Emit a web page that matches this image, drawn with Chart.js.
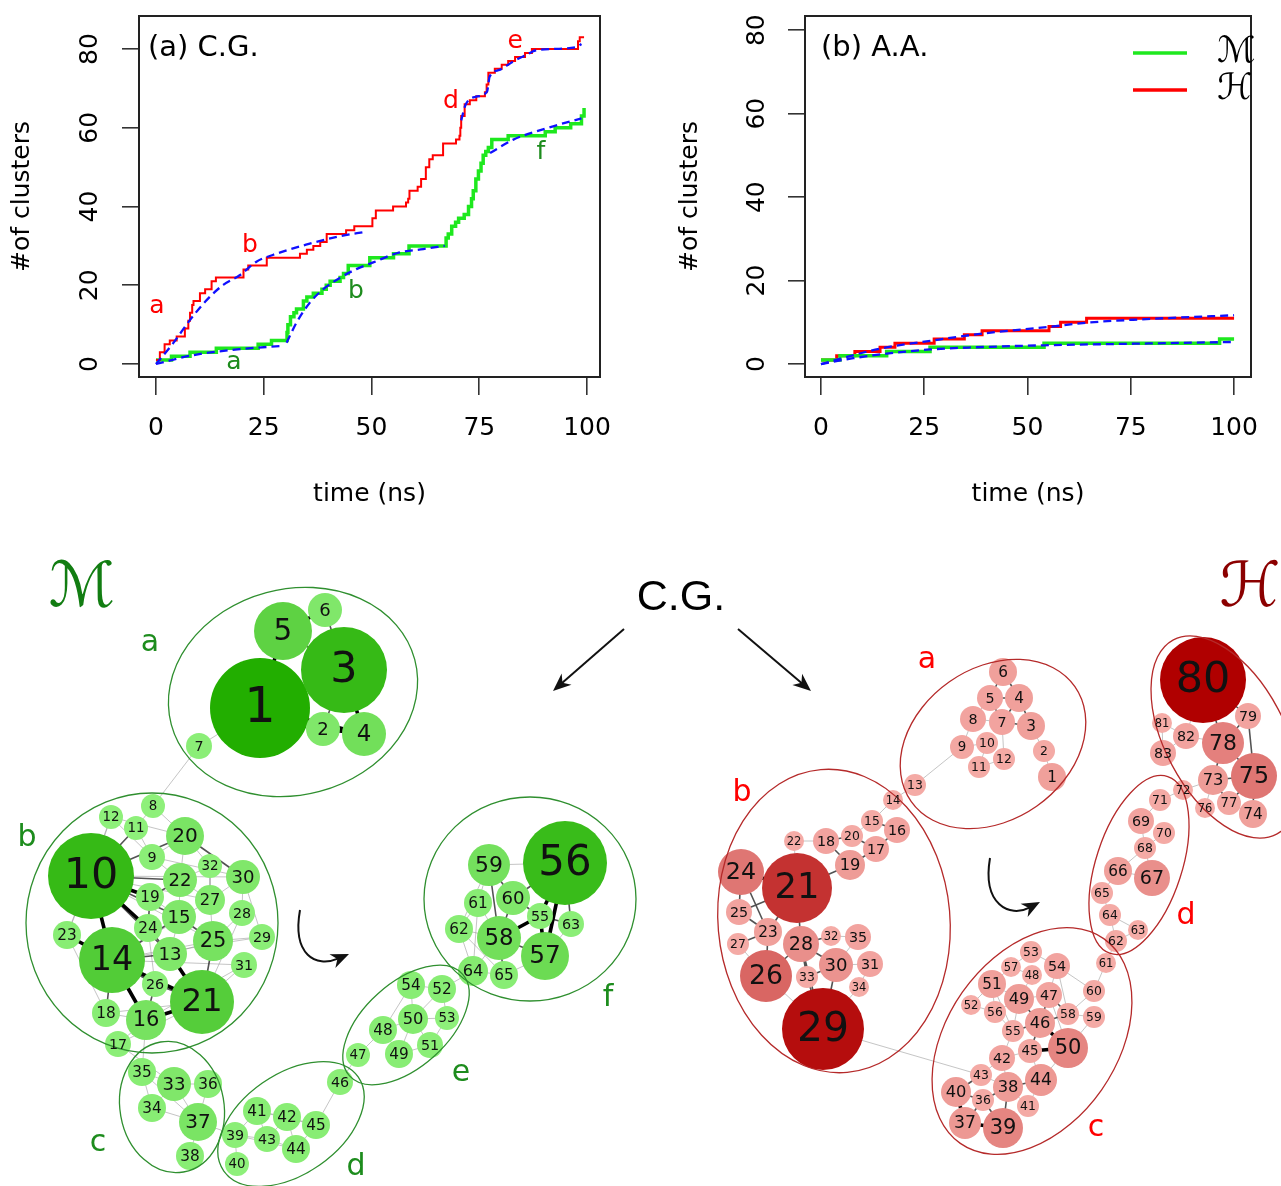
<!DOCTYPE html>
<html>
<head>
<meta charset="utf-8">
<script src="https://cdn.jsdelivr.net/npm/chart.js@4.4.1/dist/chart.umd.min.js"></script>
<style>
    html, body { margin: 0; padding: 0; background: #ffffff; }
    #page { position: relative; width: 1281px; height: 1186px; overflow: hidden; }
    canvas { position: absolute; }
    #cgChart { left: 0; top: 0; }
    #aaChart { left: 640px; top: 0; }
    #netChart { left: 0; top: 530px; }
</style>
</head>
<body>
<div id="page">
    <canvas id="cgChart" width="640" height="530"></canvas>
    <canvas id="aaChart" width="641" height="530"></canvas>
    <canvas id="netChart" width="1281" height="656"></canvas>
</div>
<script>
// ---- top panels: number of clusters over time ----
const timeTicks = [0, 25, 50, 75, 100];
const countTicks = [0, 20, 40, 60, 80];

// [time (ns), clusters]; a step happens at each time
const cgHSteps = [[0, 1], [0.9, 3], [2, 5], [3.2, 6], [4.8, 7], [6.7, 9], [7.5, 11], [7.9, 13], [8.4, 15], [8.7, 16],
    [10.2, 18], [11.4, 19], [12.9, 21], [13.9, 22], [20.3, 24], [21.4, 25], [25.7, 27], [33.4, 28], [35, 29], [36.5, 30],
    [38.1, 31], [39.6, 33], [44.1, 34], [46, 35], [50.2, 37], [51, 39], [55, 40], [58, 41], [58.5, 42], [58.8, 44],
    [60.7, 45], [61.5, 47], [62.6, 50], [63.4, 52], [64.2, 53], [66.6, 56], [69.6, 57], [70.4, 58], [70.6, 60], [70.8, 63],
    [71.6, 66], [72.8, 67], [74.3, 68], [76.3, 69], [76.7, 71], [77.1, 74], [78.6, 75], [80.2, 76], [81.7, 77], [83.3, 78],
    [85.6, 79], [87.2, 80], [97.9, 82], [98.3, 83], [99.3, 83]];
const cgMSteps = [[0, 1], [3.6, 2], [7.9, 3], [14, 4], [23.7, 5], [26.8, 6], [30.4, 8], [30.6, 10], [31.2, 12], [32, 13],
    [32.6, 14], [34.2, 16], [35, 17], [36.5, 18], [38.5, 19], [39.5, 20], [40.4, 21], [42.7, 22], [43.5, 23], [44.6, 25],
    [49.6, 27], [55.1, 28], [58.7, 30], [67.3, 32], [67.8, 33], [68.6, 35], [69.5, 36], [70.2, 37], [71.5, 38], [72.5, 40],
    [73.2, 42], [73.6, 44], [74.2, 47], [74.8, 49], [75.4, 51], [75.9, 53], [76.5, 54], [77.1, 55], [77.9, 57], [81.7, 58],
    [90.3, 59], [92.6, 60], [96.2, 61], [98.7, 63], [99.3, 65]];
// fitted curves (null = break between fitted stretches)
const cgHFit = [[0, 0], [4, 5.3], [7.9, 11.2], [11.8, 16.3], [15.6, 20.1], [19.5, 22.6], [23.3, 26], [27.1, 27.7],
    [34.8, 30.3], [42.5, 32.4], [48.7, 33.6], null, [70.8, 61.9], [71.8, 65.8], [74.3, 67.9], [76.8, 69.2], [77.4, 73],
    [79.7, 74.7], [82.8, 76.8], [85.9, 78.5], [88.2, 79.7], [97.5, 80.5], [98.7, 81.3]];
const cgMFit = [[0, 0], [7.9, 2.1], [19.5, 3.8], [29.6, 4.6], null, [30.3, 5.4], [32.6, 10.5], [35.7, 15.6], [38.8, 19],
    [42.7, 21.9], [46.5, 24.1], [50.4, 25.8], [56, 28.2], [62, 29.2], [67, 30], null, [77.5, 53.6], [82.9, 57],
    [90.6, 59.9], [98.7, 62.4]];

const aaHSteps = [[0, 1], [3.8, 2], [8.2, 3], [14.3, 4], [17.9, 5], [27.4, 6], [34.7, 7], [39, 8], [55.2, 9], [58, 10],
    [64.3, 11], [100, 11]];
const aaMSteps = [[0, 1], [4.6, 2], [15.9, 3], [26.4, 4], [54, 5], [96.5, 6], [100, 6]];
const aaHFit = [[0, 0], [14.3, 3.7], [27.4, 5.7], [39, 7.3], [55.2, 8.9], [64.3, 9.9], [77.2, 10.7], [100, 11.7]];
const aaMFit = [[0, 0], [7.8, 1.4], [15.9, 2.5], [26.4, 3.5], [36.9, 4], [54, 4.5], [77.2, 4.9], [100, 5.3]];

// stage letters placed at [letter, time, clusters]
const cgHNotes = [['a', 0.2, 14.5], ['b', 21.8, 30.2], ['d', 68.4, 66.8], ['e', 83.3, 82]];
const cgMNotes = [['a', 18.1, 0.5], ['b', 46.4, 18.3], ['f', 89.3, 53.6]];

// ---- bottom: cluster networks, [id, x, y, size] in layout units ----
const mNodes = [
    [1, 260, 708, 50], [3, 344, 670, 43], [5, 283, 631, 29], [6, 325, 610, 17], [2, 323, 729, 17], [4, 364, 734, 22],
    [7, 199, 746, 13],
    [10, 91, 876, 43], [14, 112, 960, 33], [21, 202, 1002, 32], [16, 146, 1020, 20], [25, 213, 941, 20], [20, 185, 836, 19],
    [22, 180, 880, 17], [30, 243, 877, 17], [15, 179, 917, 17], [27, 210, 900, 15], [19, 150, 897, 14], [24, 148, 928, 14],
    [13, 170, 954, 17], [26, 155, 984, 13], [28, 242, 913, 13], [29, 262, 937, 13], [31, 244, 965, 13], [23, 67, 935, 14],
    [18, 106, 1013, 14], [17, 118, 1044, 13], [32, 210, 866, 12], [9, 152, 857, 13], [11, 136, 828, 12], [12, 111, 817, 12],
    [8, 153, 806, 12],
    [35, 142, 1072, 14], [33, 174, 1084, 17], [36, 208, 1084, 14], [34, 152, 1108, 14], [37, 198, 1122, 19], [38, 190, 1156, 14],
    [46, 340, 1082, 13], [41, 257, 1111, 14], [42, 287, 1117, 14], [45, 316, 1125, 14], [39, 235, 1135, 13], [43, 267, 1139, 13],
    [44, 296, 1149, 14], [40, 237, 1164, 12],
    [54, 411, 985, 14], [52, 442, 989, 14], [50, 413, 1019, 15], [53, 447, 1018, 12], [48, 383, 1030, 14], [51, 430, 1045, 13],
    [49, 399, 1054, 14], [47, 358, 1055, 12],
    [56, 565, 863, 42], [59, 489, 865, 21], [60, 513, 898, 17], [61, 478, 903, 14], [55, 540, 916, 13], [63, 571, 924, 13],
    [62, 459, 929, 14], [58, 499, 938, 22], [57, 545, 956, 24], [64, 473, 971, 15], [65, 504, 975, 14],
];
const hNodes = [
    [6, 1003, 672, 14], [5, 990, 698, 13], [4, 1019, 698, 14], [8, 973, 719, 13], [7, 1002, 722, 13], [3, 1031, 726, 14],
    [9, 962, 747, 12], [10, 987, 743, 11], [12, 1004, 759, 11], [11, 979, 767, 11], [2, 1044, 751, 11], [1, 1052, 777, 14],
    [13, 915, 785, 11],
    [14, 893, 800, 10], [15, 872, 821, 11], [16, 897, 830, 13], [20, 852, 836, 11], [17, 876, 849, 13], [18, 826, 841, 13],
    [22, 794, 841, 10], [19, 850, 865, 15], [24, 741, 872, 23], [21, 797, 888, 35], [25, 739, 912, 13], [23, 768, 932, 14],
    [27, 738, 944, 11], [28, 801, 944, 18], [32, 831, 936, 10], [35, 858, 937, 13], [26, 766, 976, 26], [30, 836, 965, 17],
    [31, 870, 964, 13], [33, 807, 977, 11], [34, 859, 987, 10], [29, 823, 1029, 41],
    [53, 1031, 952, 11], [57, 1011, 967, 10], [54, 1057, 966, 13], [48, 1032, 975, 10], [51, 992, 984, 14], [49, 1019, 999, 15],
    [47, 1049, 995, 13], [52, 971, 1005, 10], [56, 995, 1012, 11], [58, 1068, 1014, 11], [46, 1040, 1023, 15], [55, 1013, 1031, 11],
    [45, 1030, 1051, 12], [50, 1068, 1048, 20], [42, 1002, 1058, 13], [44, 1041, 1080, 16], [43, 981, 1075, 11], [38, 1008, 1087, 15],
    [40, 956, 1092, 15], [36, 983, 1100, 11], [41, 1028, 1106, 11], [37, 965, 1123, 16], [39, 1003, 1128, 20],
    [60, 1094, 991, 11], [59, 1094, 1017, 11], [61, 1106, 963, 10],
    [72, 1183, 790, 10], [71, 1160, 800, 11], [69, 1141, 821, 13], [70, 1164, 833, 11], [68, 1145, 848, 11], [66, 1118, 871, 14],
    [67, 1152, 878, 18], [65, 1102, 893, 11], [64, 1110, 915, 11], [63, 1138, 930, 10], [62, 1116, 941, 11],
    [80, 1203, 680, 43], [79, 1248, 716, 13], [81, 1162, 723, 10], [82, 1186, 736, 13], [78, 1223, 743, 21], [83, 1163, 753, 13],
    [73, 1213, 780, 15], [75, 1254, 776, 23], [76, 1205, 808, 10], [77, 1229, 803, 12], [74, 1253, 814, 14],
];
// [from, to, strength 1..3]
const mEdges = [
    [1, 3, 3], [1, 5, 3], [1, 2, 3], [1, 4, 3], [3, 5, 2], [3, 6, 2], [5, 6, 3], [3, 4, 3], [2, 4, 3], [2, 3, 2], [1, 7, 1], [7, 8, 1],
    [10, 14, 3], [14, 21, 3], [14, 16, 3], [16, 21, 3], [10, 19, 3], [10, 24, 3], [14, 13, 2], [13, 21, 3], [10, 22, 2], [10, 12, 1],
    [10, 11, 2], [10, 20, 2], [20, 30, 2], [22, 15, 1], [15, 25, 2], [25, 21, 2], [19, 15, 1], [24, 13, 2], [26, 21, 2], [26, 14, 2],
    [10, 23, 1], [23, 14, 3], [18, 16, 1], [17, 16, 1], [9, 22, 1], [27, 25, 1], [28, 25, 1], [29, 25, 1], [31, 21, 1], [32, 27, 1],
    [8, 11, 1], [12, 9, 1], [30, 28, 1], [22, 27, 1], [19, 24, 2], [15, 13, 1], [10, 15, 2], [14, 15, 2], [14, 25, 1], [10, 13, 2],
    [13, 25, 1], [21, 28, 1], [30, 29, 1], [20, 22, 1], [17, 33, 1], [16, 35, 1], [12, 23, 1], [18, 14, 2], [26, 16, 2], [9, 20, 1],
    [11, 9, 1], [20, 32, 1], [22, 32, 1], [27, 30, 1], [24, 26, 1], [19, 22, 2], [10, 30, 1], [10, 27, 1], [14, 27, 1], [14, 31, 1],
    [23, 21, 1], [18, 21, 1], [17, 21, 1], [12, 20, 1], [10, 25, 1], [14, 29, 1], [9, 30, 1], [8, 20, 1], [16, 31, 1], [23, 18, 1],
    [35, 33, 1], [33, 36, 1], [33, 34, 1], [33, 37, 1], [34, 37, 1], [37, 38, 1], [36, 37, 1], [37, 39, 1], [35, 37, 1], [35, 34, 1],
    [39, 41, 1], [41, 42, 1], [42, 45, 1], [43, 44, 1], [39, 43, 1], [41, 43, 1], [42, 43, 1], [44, 45, 1], [39, 40, 1], [45, 46, 1],
    [42, 44, 1], [46, 47, 1], [41, 45, 1], [39, 44, 1],
    [47, 48, 1], [48, 50, 1], [50, 54, 1], [50, 52, 1], [50, 53, 1], [50, 51, 1], [48, 49, 1], [49, 50, 1], [52, 54, 1], [52, 53, 1],
    [51, 53, 1], [52, 64, 1], [48, 54, 1], [49, 51, 1],
    [56, 55, 3], [56, 57, 3], [55, 57, 3], [55, 58, 3], [58, 57, 2], [56, 60, 2], [59, 60, 2], [59, 61, 1], [58, 61, 1], [58, 62, 1],
    [58, 64, 1], [58, 65, 2], [60, 55, 2], [55, 63, 2], [56, 63, 2], [57, 65, 1], [59, 56, 1], [61, 62, 1], [64, 65, 1], [60, 58, 2],
    [59, 58, 2], [62, 64, 1], [59, 62, 1], [61, 64, 1], [57, 63, 1], [62, 65, 1],
];
const hEdges = [
    [6, 5, 2], [6, 4, 2], [5, 4, 2], [5, 8, 1], [5, 7, 2], [4, 7, 2], [4, 3, 2], [8, 7, 1], [7, 3, 2], [8, 9, 1], [9, 10, 1],
    [10, 11, 1], [11, 12, 1], [7, 12, 1], [3, 2, 1], [2, 1, 1], [9, 13, 1], [13, 14, 1],
    [14, 15, 1], [15, 16, 2], [15, 20, 1], [16, 17, 2], [17, 20, 2], [20, 18, 2], [18, 19, 2], [17, 19, 2], [18, 22, 1], [19, 21, 2],
    [21, 24, 3], [21, 25, 2], [21, 23, 2], [21, 28, 2], [24, 25, 2], [25, 23, 2], [23, 27, 2], [23, 26, 2], [26, 28, 2], [28, 32, 2],
    [28, 30, 2], [30, 31, 1], [30, 35, 1], [32, 35, 1], [30, 33, 2], [33, 29, 2], [28, 29, 2], [30, 29, 2], [26, 29, 1], [31, 34, 1],
    [34, 29, 1], [29, 43, 1], [22, 21, 1], [24, 23, 2], [27, 26, 1], [28, 33, 2],
    [53, 54, 1], [53, 57, 1], [57, 48, 1], [48, 49, 1], [51, 49, 1], [49, 47, 1], [47, 54, 1], [51, 52, 1], [51, 56, 1], [56, 49, 1],
    [56, 55, 1], [55, 46, 2], [46, 49, 2], [46, 47, 2], [46, 58, 2], [46, 50, 3], [45, 46, 2], [45, 50, 3], [45, 42, 1], [42, 43, 1],
    [43, 38, 1], [38, 44, 2], [38, 36, 2], [36, 40, 2], [40, 37, 3], [37, 36, 2], [37, 39, 3], [39, 38, 2], [38, 41, 1], [41, 44, 1],
    [44, 50, 1], [58, 59, 1], [58, 60, 1], [50, 59, 1], [47, 58, 2], [36, 39, 2], [43, 40, 2], [42, 38, 1], [54, 58, 1], [60, 61, 1],
    [51, 57, 1], [49, 55, 1], [52, 56, 1], [54, 60, 1], [47, 50, 1], [45, 44, 1], [42, 55, 1], [51, 55, 1],
    [61, 62, 1], [62, 63, 1], [62, 64, 1], [64, 65, 1], [65, 66, 1], [66, 67, 1], [67, 68, 1], [68, 69, 1], [68, 70, 1], [69, 71, 1],
    [71, 72, 1], [72, 73, 1], [63, 64, 1], [66, 68, 1],
    [80, 79, 2], [80, 78, 2], [80, 82, 1], [78, 79, 2], [78, 82, 1], [82, 81, 1], [82, 83, 1], [78, 73, 2], [78, 75, 2], [73, 75, 2],
    [73, 77, 2], [77, 75, 2], [75, 74, 2], [77, 74, 1], [73, 76, 1], [79, 75, 2], [81, 83, 1],
];

const sansFont = '"DejaVu Sans", sans-serif';
const scriptFont = '"DejaVu Serif", "DejaVu Sans", serif';
const redLine = '#ff0000';
const greenLine = '#1ee81e';
const fitBlue = '#1010ff';
const noteGreen = '#1d8c1d';

const toXY = (rows) => rows.map((p) => (p ? { x: p[0], y: p[1] } : { x: null, y: null }));

const panelPlugin = {
    id: 'panel',
    afterDatasetsDraw(chart, args, opts) {
        const { ctx, chartArea: area, scales: { x, y } } = chart;

        ctx.save();
        ctx.strokeStyle = '#222';
        ctx.lineWidth = 2;
        ctx.strokeRect(area.left, area.top, area.right - area.left, area.bottom - area.top);

        ctx.textAlign = 'center';
        ctx.textBaseline = 'middle';
        ctx.font = `25px ${sansFont}`;
        (opts.notes || []).forEach((group) => {
            ctx.fillStyle = group.color;
            group.items.forEach(([text, t, n]) => {
                ctx.fillText(text, x.getPixelForValue(t), y.getPixelForValue(n));
            });
        });

        ctx.fillStyle = '#000';
        ctx.textAlign = 'left';
        ctx.font = `29px ${sansFont}`;
        ctx.fillText(opts.title, area.left + opts.titleOffset, 48);

        if (opts.legend) {
            chart.data.datasets.forEach((ds) => {
                if (!ds.legendText) {
                    return;
                }
                const rowY = ds.legendRow;
                ctx.strokeStyle = ds.borderColor;
                ctx.lineWidth = 3.5;
                ctx.beginPath();
                ctx.moveTo(area.right - 118, rowY);
                ctx.lineTo(area.right - 64, rowY);
                ctx.stroke();
                ctx.fillStyle = '#000';
                ctx.font = `italic 36px ${scriptFont}`;
                ctx.fillText(ds.legendText, area.right - 34, rowY);
            });
        }
        ctx.restore();
    },
};

const axisFont = { family: sansFont, size: 25 };

const makeScales = (xr, yr, yWidth, yTitlePad, yTickPad) => ({
    x: {
        type: 'linear',
        min: xr[0],
        max: xr[1],
        afterBuildTicks: (scale) => { scale.ticks = timeTicks.map((v) => ({ value: v })); },
        afterFit: (scale) => {
            scale.height = 153;
            scale.paddingLeft = 0;
            scale.paddingRight = 0;
        },
        border: { display: false },
        grid: { drawOnChartArea: false, tickLength: 18, color: '#333', lineWidth: 1.6 },
        ticks: { color: '#000', font: axisFont, padding: 18, maxRotation: 0, autoSkip: false },
        title: { display: true, text: 'time (ns)', color: '#000', font: axisFont, padding: { top: 0, bottom: 21 } },
    },
    y: {
        type: 'linear',
        min: yr[0],
        max: yr[1],
        afterBuildTicks: (scale) => { scale.ticks = countTicks.map((v) => ({ value: v })); },
        afterFit: (scale) => {
            scale.width = yWidth;
            scale.paddingTop = 0;
            scale.paddingBottom = 0;
        },
        border: { display: false },
        grid: { drawOnChartArea: false, tickLength: 17, color: '#333', lineWidth: 1.6 },
        ticks: { color: '#000', font: axisFont, padding: yTickPad, minRotation: 90, maxRotation: 90, crossAlign: 'center', autoSkip: false },
        title: { display: true, text: '#of clusters', color: '#000', font: axisFont, padding: { top: yTitlePad, bottom: 0 } },
    },
});

const stepSet = (rows, color, width, extra = {}) => ({
    data: toXY(rows),
    borderColor: color,
    borderWidth: width,
    stepped: true,
    pointRadius: 0,
    fill: false,
    order: 2,
    ...extra,
});

const fitSet = (rows) => ({
    data: toXY(rows),
    borderColor: fitBlue,
    borderWidth: 2.3,
    borderDash: [8, 5],
    pointRadius: 0,
    fill: false,
    spanGaps: false,
    cubicInterpolationMode: 'monotone',
    order: 0,
});

const panelOptions = (scales, padRight, plugin) => ({
    responsive: false,
    animation: false,
    events: [],
    layout: { autoPadding: false, padding: { top: 16, right: padRight, left: 0, bottom: 0 } },
    plugins: { legend: { display: false }, tooltip: { enabled: false }, panel: plugin },
    scales,
});

new Chart(document.getElementById('cgChart'), {
    type: 'line',
    data: {
        datasets: [
            fitSet(cgHFit),
            fitSet(cgMFit),
            stepSet(cgHSteps, redLine, 2),
            stepSet(cgMSteps, greenLine, 3.5),
        ],
    },
    options: panelOptions(makeScales([-3.94, 103], [-3.3, 88.4], 139, 7, 16), 40, {
        title: '(a) C.G.',
        titleOffset: 9,
        notes: [{ color: redLine, items: cgHNotes }, { color: noteGreen, items: cgMNotes }],
    }),
    plugins: [panelPlugin],
});

new Chart(document.getElementById('aaChart'), {
    type: 'line',
    data: {
        datasets: [
            fitSet(aaHFit),
            fitSet(aaMFit),
            stepSet(aaMSteps, greenLine, 3.5, { legendText: 'ℳ', legendRow: 53 }),
            stepSet(aaHSteps, redLine, 3, { legendText: 'ℋ', legendRow: 90 }),
        ],
    },
    options: panelOptions(makeScales([-3.87, 104.1], [-3.1, 83.4], 165, 35, 15), 30, {
        title: '(b) A.A.',
        titleOffset: 16,
        legend: true,
    }),
    plugins: [panelPlugin],
});

// ---- networks ----
const shade = (light, dark, lo, hi, v, gamma) => {
    const t = Math.pow(Math.max(0, Math.min(1, (v - lo) / (hi - lo))), gamma);
    const c = light.map((l, i) => Math.round(l + (dark[i] - l) * t));
    return `rgb(${c.join(',')})`;
};
const greenShade = (v) => shade([142, 240, 122], [34, 174, 0], 12, 50, v, 1);
const redShade = (v) => shade([245, 172, 167], [176, 0, 0], 10, 43, v, 1.25);

const edgeStyles = {
    1: { color: 'rgba(140,140,140,0.5)', width: 1 },
    2: { color: 'rgba(40,40,40,0.8)', width: 1.6 },
    3: { color: '#000000', width: 3.6 },
};

const nodeSet = (nodes, colorFor) => ({
    type: 'bubble',
    data: nodes.map((n) => ({ x: n[1], y: n[2], r: n[3], id: n[0] })),
    backgroundColor: (c) => colorFor(c.raw ? c.raw.r : 12),
    borderWidth: 0,
    clip: false,
    isNode: true,
    order: 0,
});

const edgeSets = (nodes, edges) => {
    const byId = {};
    nodes.forEach((n) => { byId[n[0]] = n; });

    return [1, 2, 3].map((w) => {
        const pts = [];
        edges.filter((e) => e[2] === w).forEach(([a, b]) => {
            const p = byId[a];
            const q = byId[b];
            if (!p || !q) {
                return;
            }
            pts.push({ x: p[1], y: p[2] }, { x: q[1], y: q[2] }, { x: q[1], y: null });
        });
        return {
            type: 'scatter',
            data: pts,
            showLine: true,
            spanGaps: false,
            pointRadius: 0,
            borderColor: edgeStyles[w].color,
            borderWidth: edgeStyles[w].width,
            clip: false,
            order: 4 - w,
        };
    });
};

const arrowHead = (ctx, fx, fy, tx, ty) => {
    const ang = Math.atan2(ty - fy, tx - fx);
    const len = 18;
    const half = 7.5;
    ctx.beginPath();
    ctx.moveTo(tx, ty);
    ctx.lineTo(tx - len * Math.cos(ang) + half * Math.sin(ang), ty - len * Math.sin(ang) - half * Math.cos(ang));
    ctx.lineTo(tx - len * 0.7 * Math.cos(ang), ty - len * 0.7 * Math.sin(ang));
    ctx.lineTo(tx - len * Math.cos(ang) - half * Math.sin(ang), ty - len * Math.sin(ang) + half * Math.cos(ang));
    ctx.closePath();
    ctx.fill();
};

const networkPlugin = {
    id: 'network',
    afterDatasetsDraw(chart, args, opts) {
        const { ctx, scales: { x, y } } = chart;
        const px = (v) => x.getPixelForValue(v);
        const py = (v) => y.getPixelForValue(v);

        ctx.save();

        // cluster outlines
        opts.hulls.forEach((group) => {
            ctx.strokeStyle = group.color;
            ctx.lineWidth = 1.3;
            group.items.forEach(([cx, cy, a, b, rot]) => {
                ctx.beginPath();
                ctx.ellipse(px(cx), py(cy), Math.abs(px(cx + a) - px(cx)), Math.abs(py(cy + b) - py(cy)), rot * Math.PI / 180, 0, Math.PI * 2);
                ctx.stroke();
            });
        });

        // node numbers
        ctx.textAlign = 'center';
        ctx.textBaseline = 'middle';
        ctx.fillStyle = '#111';
        chart.data.datasets.forEach((ds, i) => {
            if (!ds.isNode) {
                return;
            }
            chart.getDatasetMeta(i).data.forEach((el, j) => {
                const r = ds.data[j].r;
                ctx.font = `${(r * 0.95 + 2).toFixed(1)}px ${sansFont}`;
                ctx.fillText(String(ds.data[j].id), el.x, el.y + 1);
            });
        });

        // stage letters
        ctx.font = `30px ${sansFont}`;
        opts.letters.forEach((group) => {
            ctx.fillStyle = group.color;
            group.items.forEach(([t, lx, ly]) => ctx.fillText(t, px(lx), py(ly)));
        });

        // headings
        opts.headings.forEach(([t, hx, hy, font, color]) => {
            ctx.font = font;
            ctx.fillStyle = color;
            ctx.fillText(t, px(hx), py(hy));
        });

        // arrows
        ctx.strokeStyle = '#111';
        ctx.fillStyle = '#111';
        ctx.lineWidth = 2;
        opts.arrows.forEach((pts) => {
            const p = [];
            for (let k = 0; k < pts.length; k += 2) {
                p.push([px(pts[k]), py(pts[k + 1])]);
            }
            const end = p[p.length - 1];
            const prev = p[p.length - 2];
            const ang = Math.atan2(end[1] - prev[1], end[0] - prev[0]);
            const stop = [end[0] - 12 * Math.cos(ang), end[1] - 12 * Math.sin(ang)];
            ctx.beginPath();
            ctx.moveTo(p[0][0], p[0][1]);
            if (p.length === 4) {
                ctx.bezierCurveTo(p[1][0], p[1][1], p[2][0], p[2][1], stop[0], stop[1]);
            } else {
                ctx.lineTo(stop[0], stop[1]);
            }
            ctx.stroke();
            arrowHead(ctx, prev[0], prev[1], end[0], end[1]);
        });

        ctx.restore();
    },
};

new Chart(document.getElementById('netChart'), {
    type: 'bubble',
    data: {
        datasets: [
            nodeSet(mNodes, greenShade),
            nodeSet(hNodes, redShade),
            ...edgeSets(mNodes, mEdges),
            ...edgeSets(hNodes, hEdges),
        ],
    },
    options: {
        responsive: false,
        animation: false,
        events: [],
        layout: { autoPadding: false, padding: 0 },
        scales: {
            x: { type: 'linear', min: 0, max: 1281, display: false },
            y: { type: 'linear', min: 530, max: 1186, reverse: true, display: false },
        },
        plugins: {
            legend: { display: false },
            tooltip: { enabled: false },
            network: {
                hulls: [
                    {
                        color: '#2f8f2f',
                        items: [[293, 692, 126, 103, -15], [152, 923, 126, 130, 0], [172, 1107, 52, 66, -10],
                            [291, 1124, 82, 50, -35], [406, 1025, 76, 42, -42], [530, 899, 106, 102, 0]],
                    },
                    {
                        color: '#b52a2a',
                        items: [[993, 744, 100, 76, -35], [834, 921, 116, 152, -5], [1032, 1041, 125, 85, -55],
                            [1139, 865, 93, 43, -72], [1225, 737, 110, 60, 62]],
                    },
                ],
                letters: [
                    { color: noteGreen, items: [['a', 150, 643], ['b', 27, 838], ['c', 98, 1143], ['d', 356, 1167], ['e', 461, 1073], ['f', 608, 998]] },
                    { color: redLine, items: [['a', 927, 660], ['b', 742, 793], ['c', 1096, 1128], ['d', 1186, 916]] },
                ],
                headings: [
                    ['ℳ', 82, 590, `italic 62px ${scriptFont}`, '#127d12'],
                    ['ℋ', 1250, 590, `italic 62px ${scriptFont}`, '#8b0000'],
                    ['C.G.', 681, 598, '43px "Liberation Sans", Arial, sans-serif', '#000'],
                ],
                arrows: [
                    [624, 629, 553, 691],
                    [738, 629, 811, 691],
                    [300, 910, 292, 955, 316, 968, 349, 954],
                    [990, 858, 982, 905, 1010, 918, 1040, 902],
                ],
            },
        },
    },
    plugins: [networkPlugin],
});
</script>
</body>
</html>
